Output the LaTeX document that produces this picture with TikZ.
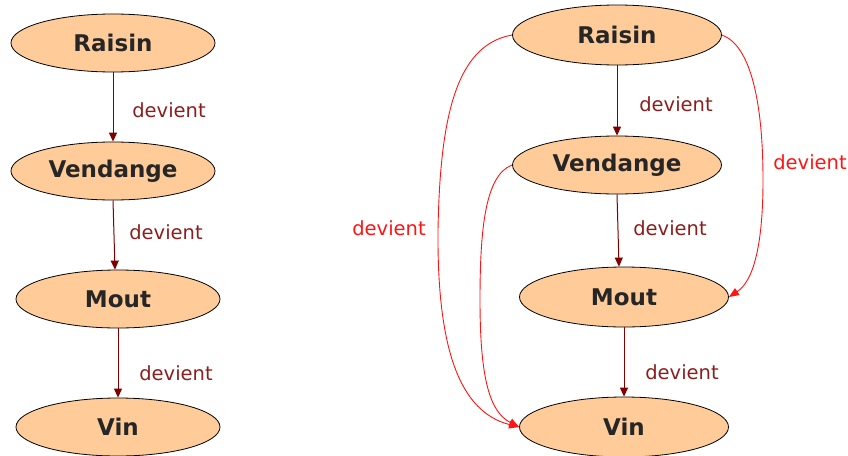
\documentclass[tikz,border=0pt]{standalone}
\usepackage{fontspec}
\setmainfont{DejaVu Sans}
\usetikzlibrary{shapes.geometric,arrows.meta}
\definecolor{peach}{RGB}{255,204,153}
\definecolor{maroon}{RGB}{128,0,0}
\definecolor{lblred}{RGB}{140,30,30}
\definecolor{brightred}{RGB}{255,20,20}
\tikzset{
  etat/.style={ellipse, draw=black, fill=peach, line width=0.8pt, inner sep=0pt,
    minimum width=204pt, minimum height=58pt,
    font=\fontsize{23}{27}\selectfont\bfseries, text=black!85},
  fleche/.style={draw=maroon, line width=1pt, -{Triangle[length=9pt,width=8pt]}},
  rouge/.style={draw=brightred, line width=0.9pt, -{Triangle[length=10pt,width=8pt]}},
  lbl/.style={font=\fontsize{19.5}{22}\selectfont, text=lblred, inner sep=0pt},
  lblr/.style={font=\fontsize{19.5}{22}\selectfont, text=brightred, inner sep=0pt}
}
\begin{document}
\begin{tikzpicture}[x=1pt,y=-1pt]
\useasboundingbox (0,0) rectangle (848,455);
% left column
\node[etat] (r1) at (113,43) {Raisin};
\node[etat] (v1) at (113,171) {Vendange};
\node[etat] (m1) at (118,299) {Mout};
\node[etat] (w1) at (118,427) {Vin};
\draw[fleche] (r1.south) -- (v1.north);
\draw[fleche] (v1.south) -- ([xshift=-3pt]m1.north);
\draw[fleche] (m1.south) -- (w1.north);
\node[lbl] (l1) at (169,110) {devient};
\node[lbl] (l2) at (166,232) {devient};
\node[lbl] (l3) at (176,373) {devient};
% right column
\node[etat, minimum width=209pt, minimum height=60pt] (r2) at (617,35) {Raisin};
\node[etat, minimum width=209pt] (v2) at (617,165) {Vendange};
\node[etat, minimum width=209pt, minimum height=60pt] (m2) at (624,297) {Mout};
\node[etat, minimum width=209pt, minimum height=60pt] (w2) at (624,427) {Vin};
\draw[fleche] (r2.south) -- (v2.north);
\draw[fleche] (v2.south) -- ([xshift=-5pt]m2.north);
\draw[fleche] (m2.south) -- (w2.north);
\node[lbl] (l4) at (676,104) {devient};
\node[lbl] (l5) at (670,228) {devient};
\node[lbl] (l6) at (682,372) {devient};
% red curves
\draw[rouge] (r2.west) .. controls (455,45) and (440,120) .. (438,230)
  .. controls (437,350) and (460,412) .. (w2.west);
\draw[rouge] (v2.west) .. controls (485,175) and (480,230) .. (480,300)
  .. controls (480,380) and (490,412) .. (w2.west);
\draw[rouge] (r2.east) .. controls (750,45) and (763,100) .. (763,180)
  .. controls (763,250) and (752,282) .. (m2.east);
\node[lblr] (l7) at (389,228) {devient};
\node[lblr] (l8) at (810,162) {devient};
\end{tikzpicture}
\end{document}
